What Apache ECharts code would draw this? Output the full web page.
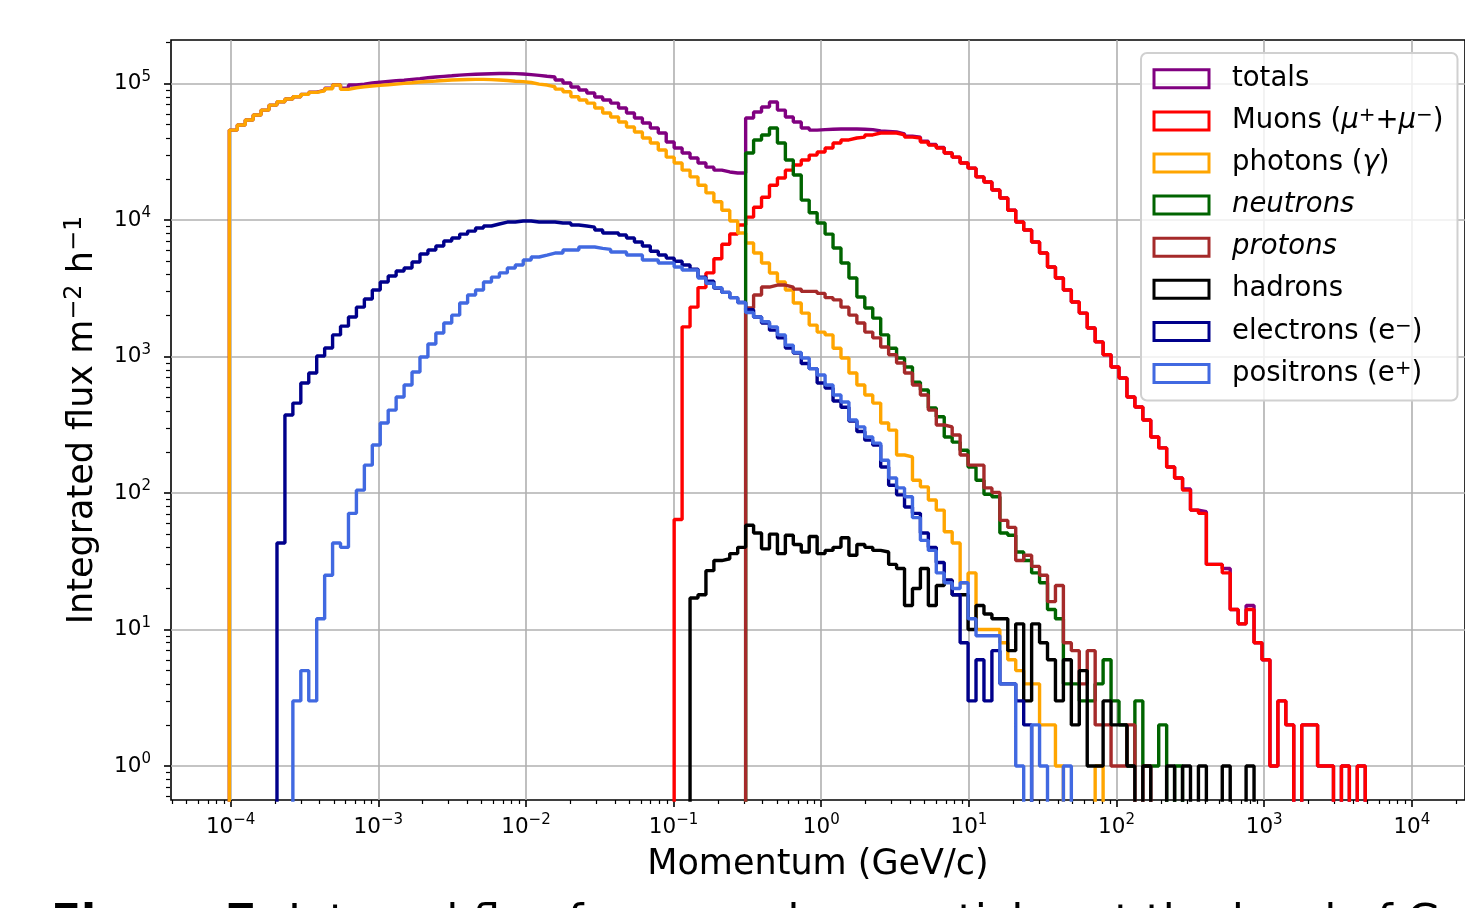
<!DOCTYPE html>
<html>
<head>
<meta charset="utf-8">
<script src="https://cdn.jsdelivr.net/npm/echarts@6/dist/echarts.min.js"></script>
<style>
  html, body { margin: 0; padding: 0; background: #fff; }
  #chart { width: 1465px; height: 908px; }
</style>
</head>
<body>
<div id="chart"></div>
<script>
// momentum bins are equal in log10(p / GeV/c)
const firstEdgeLog = -4.009;
const binWidthLog = 0.0538;

// integrated flux per bin (m^-2 h^-1); 0 = empty bin
const totalsFirstBin = 0;
const totals = [
  45600, 49700, 54000, 58800, 63900, 69500, 73600, 77000, 80000, 83300,
  86500, 89000, 92500, 98000, 92500, 97500, 99100, 100900, 102200, 103500,
  104800, 105700, 107300, 108700, 110300, 111700, 112900, 114000, 115200, 116200,
  116900, 117500, 118000, 118400, 118600, 118200, 117400, 116200, 114700, 113100,
  111600, 106100, 100900, 94300, 89600, 85200, 79600, 75700, 71900, 66200,
  60800, 55900, 51400, 47200, 43400, 37300, 33700, 31000, 28500, 26200,
  24400, 23200, 22500, 22100, 22100, 55900, 61800, 67300, 73200, 63900,
  56800, 52300, 47200, 45600, 46000, 46300, 46500, 46500, 46500, 46300,
  46000, 45000, 44600, 44200, 42800, 41200, 40500, 37800, 35800, 34000,
  31000, 28900, 26200, 24000, 20700, 19000, 16600, 14500, 11800, 9670,
  8450, 6900, 5730, 4530, 3760, 3070, 2510, 2080, 1620, 1280,
  1030, 838, 696, 505, 427, 343, 257, 214, 155, 129,
  107, 75, 73, 30, 30, 28, 14, 11, 15, 8,
  6, 1, 3, 2, 0, 2, 2, 1, 1, 0,
  1, 0, 1
];

const muonsFirstBin = 56;
const muons = [
  64, 1650, 2300, 3200, 4100, 5200, 6650, 7900, 9200, 10500,
  12400, 14700, 18000, 20300, 23200, 25300, 27500, 29900, 31500, 33700,
  36700, 38600, 39900, 40500, 42000, 43400, 43400, 43400, 42000, 40500,
  39900, 37300, 35400, 33700, 31000, 28900, 26200, 24000, 20700, 19000,
  16600, 14500, 11800, 9670, 8450, 6900, 5730, 4530, 3760, 3070,
  2510, 2080, 1620, 1280, 1030, 838, 696, 505, 427, 343,
  257, 214, 155, 129, 105, 75, 71, 30, 30, 26,
  14, 11, 14, 8, 6, 1, 3, 2, 0, 2,
  2, 1, 1, 0, 1, 0, 1
];

const photonsFirstBin = 0;
const photons = [
  45600, 49700, 54000, 58800, 63900, 69500, 73600, 77000, 80000, 83300,
  86200, 88500, 91600, 97500, 90600, 93200, 94700, 95900, 97000, 98000,
  99100, 100200, 101300, 102600, 103500, 104300, 105200, 106100, 106600, 107100,
  107300, 107300, 106900, 106100, 105200, 104000, 103200, 101700, 99100, 97500,
  94700, 91000, 87100, 80000, 75700, 71900, 66200, 60800, 56900, 52300,
  48000, 44100, 39900, 36700, 32600, 28900, 26200, 23200, 20700, 18000,
  15800, 13600, 11800, 9830, 8040, 6790, 5730, 4840, 4090, 3520,
  3070, 2470, 2080, 1700, 1510, 1440, 1150, 975, 757, 618,
  522, 456, 326, 289, 190, 184, 124, 111, 89, 75,
  52, 43, 22, 26, 10, 10, 10, 8, 6, 5,
  4, 4, 2, 2, 1, 0, 0, 0, 0, 1
];

const neutronsFirstBin = 65;
const neutrons = [
  31000, 38600, 42000, 47200, 36700, 27500, 21400, 14000, 11300, 9510,
  7890, 6240, 4840, 3760, 2730, 2270, 1910, 1440, 1150, 975,
  838, 648, 568, 420, 362, 257, 236, 206, 155, 124,
  98, 94, 51, 49, 37, 32, 26, 22, 14, 12,
  4, 4, 3, 3, 4, 6, 3, 2, 1, 3,
  1, 1, 2, 0, 1
];

const protonsFirstBin = 65;
const protons = [
  2270, 2820, 3230, 3340, 3340, 3230, 3120, 3000, 3000, 2900,
  2700, 2600, 2300, 2010, 1760, 1510, 1370, 1175, 1030, 896,
  757, 618, 522, 405, 315, 305, 266, 190, 160, 160,
  109, 101, 63, 56, 32, 35, 29, 25, 16, 21,
  8, 7, 4, 7, 2, 2, 1, 1, 2, 0,
  1
];

const hadronsFirstBin = 58;
const hadrons = [
  17, 18, 27, 32, 33, 36, 40, 58, 51, 39,
  50, 36, 49, 42, 37, 48, 36, 38, 40, 47,
  35, 42, 40, 38, 37, 30, 28, 15, 20, 28,
  15, 21, 23, 18, 18, 10, 15, 13, 12, 12,
  7, 11, 3, 11, 8, 6, 3, 6, 2, 5,
  1, 1, 3, 2, 2, 1, 0, 1, 0, 0,
  1, 0, 1, 0, 1, 0, 0, 1, 0, 0,
  1
];

const electronsFirstBin = 6;
const electrons = [
  43, 373, 456, 640, 757, 1010, 1155, 1440, 1670, 1950,
  2300, 2640, 3070, 3520, 3890, 4230, 4450, 4925, 5635, 6030,
  6450, 7020, 7380, 7890, 8300, 8740, 9040, 9350, 9670, 9670,
  9830, 9830, 9670, 9670, 9670, 9510, 9510, 9190, 9040, 8870,
  8450, 8040, 8040, 7770, 7380, 6900, 6450, 5900, 5540, 5260,
  4990, 4680, 4370, 3820, 3560, 3170, 2950, 2700, 2490, 2200,
  1950, 1760, 1560, 1370, 1155, 1060, 890, 815, 640, 588,
  472, 425, 337, 282, 244, 225, 155, 114, 97, 79,
  71, 51, 40, 31, 23, 18, 8, 3, 6, 3,
  7, 4, 4, 3, 2
];

const positronsFirstBin = 8;
const positrons = [
  3, 5, 3, 12, 25, 43, 40, 71, 105, 160,
  225, 326, 405, 505, 618, 770, 992, 1235, 1487, 1760,
  2010, 2470, 2820, 3070, 3515, 3820, 4100, 4450, 4680, 5090,
  5360, 5540, 5730, 5730, 6030, 6030, 6340, 6340, 6200, 6100,
  5830, 5830, 5540, 5540, 5090, 5090, 4840, 4840, 4530, 4300,
  4300, 3760, 3440, 3200, 2950, 2700, 2490, 2100, 1950, 1800,
  1650, 1440, 1210, 1070, 975, 815, 732, 618, 522, 464,
  343, 305, 257, 232, 174, 129, 109, 94, 66, 45,
  38, 26, 22, 20, 22, 12, 9, 9, 9, 4,
  4, 1, 0, 2, 1, 0, 0, 1
];

const seriesNames = ['totals', 'Muons', 'photons', 'neutrons', 'protons', 'hadrons', 'electrons', 'positrons'];
const legendLabels = [
  'totals',
  'Muons ({i|μ}{s|+}+{i|μ}{s|−})',
  'photons ({i|γ})',
  '{i|neutrons}',
  '{i|protons}',
  'hadrons',
  'electrons (e{s|−})',
  'positrons (e{s|+})'
];
const colors = ['#800080', '#ff0000', '#ffa500', '#006400', '#a52a2a', '#000000', '#00008b', '#4169e1'];

const xTickExps = [-4, -3, -2, -1, 0, 1, 2, 3, 4];
const yTickExps = [0, 1, 2, 3, 4, 5];
const xRange = [-4.404, 4.36];
const yRange = [-0.249, 5.319];

const emptyLog = -3; // empty bins fall below the frame, like matplotlib's log clip

function edge(n) {
  return firstEdgeLog + n * binWidthLog;
}

function stepPoints(firstBin, flux) {
  const lg = v => (v > 0 ? Math.log10(v) : emptyLog);
  const pts = [[edge(firstBin), emptyLog]];
  flux.forEach((v, i) => pts.push([edge(firstBin + i), lg(v)]));
  const end = edge(firstBin + flux.length);
  pts.push([end, lg(flux[flux.length - 1])]);
  pts.push([end, emptyLog]);
  return pts;
}

function minorTicks(range) {
  const out = [];
  for (let d = Math.floor(range[0]); d <= Math.ceil(range[1]); d++) {
    for (let m = 2; m <= 9; m++) {
      const v = d + Math.log10(m);
      if (v > range[0] && v < range[1]) out.push(v);
    }
  }
  return out;
}

function powerLabel(v) {
  const e = Math.round(v);
  return '{b|10}{s|' + (e < 0 ? '−' + (-e) : e) + '}';
}

const font = 'DejaVu Sans';
const tickRich = {
  b: { fontSize: 21.5, lineHeight: 28, fontFamily: font, color: '#000' },
  s: { fontSize: 15, lineHeight: 15, verticalAlign: 'top', fontFamily: font, color: '#000' }
};

const allData = [
  [totalsFirstBin, totals],
  [muonsFirstBin, muons],
  [photonsFirstBin, photons],
  [neutronsFirstBin, neutrons],
  [protonsFirstBin, protons],
  [hadronsFirstBin, hadrons],
  [electronsFirstBin, electrons],
  [positronsFirstBin, positrons]
];

const chart = echarts.init(document.getElementById('chart'));

const option = {
  animation: false,
  backgroundColor: '#fff',
  textStyle: { fontFamily: font },
  grid: {
    left: 171, top: 40, right: -1, bottom: 108,
    show: true, borderColor: '#000', borderWidth: 1.6, backgroundColor: 'transparent'
  },
  title: {
    text: '{b|Figure 7:} Integral flux for secondary particles at the level of Gran Sasso',
    left: 46, top: 898,
    textStyle: {
      fontSize: 44, fontWeight: 'normal', color: '#000', fontFamily: font,
      rich: { b: { fontSize: 44, fontWeight: 'bold', fontFamily: font, color: '#000' } }
    }
  },
  legend: {
    orient: 'vertical',
    left: 1141, top: 53,
    padding: [10.8, 14, 12, 11.5],
    itemWidth: 55, itemHeight: 18, itemGap: 12.1,
    icon: 'rect',
    selectedMode: false,
    backgroundColor: 'rgba(255,255,255,0.8)',
    borderColor: '#d0d0d0', borderWidth: 2, borderRadius: 6,
    data: seriesNames.map((n, i) => ({
      name: n,
      itemStyle: { color: 'rgba(0,0,0,0)', borderColor: colors[i], borderWidth: 3 }
    })),
    formatter: name => legendLabels[seriesNames.indexOf(name)],
    textStyle: {
      fontSize: 27.5, lineHeight: 30, color: '#000', fontFamily: font, padding: [0, 0, 0, 18],
      rich: {
        i: { fontSize: 27.5, lineHeight: 30, fontStyle: 'italic', fontFamily: font, color: '#000' },
        s: { fontSize: 20, lineHeight: 19, verticalAlign: 'top', fontFamily: font, color: '#000' }
      }
    }
  },
  xAxis: [
    {
      type: 'value', min: xRange[0], max: xRange[1],
      axisLine: { show: false, onZero: false },
      axisTick: { show: true, length: 7, lineStyle: { color: '#000', width: 1.6 }, customValues: xTickExps },
      axisLabel: { customValues: xTickExps, formatter: powerLabel, rich: tickRich, margin: 13 },
      splitLine: { show: true, lineStyle: { color: '#b0b0b0', width: 1.6 } },
      name: 'Momentum (GeV/c)', nameLocation: 'middle', nameGap: 45,
      nameTextStyle: { fontSize: 35, lineHeight: 40, color: '#000', fontFamily: font }
    },
    {
      type: 'value', min: xRange[0], max: xRange[1],
      position: 'top', offset: -760,
      axisLine: { show: false, onZero: false },
      axisTick: { show: true, inside: true, length: 4, lineStyle: { color: '#000', width: 1.2 }, customValues: minorTicks(xRange) },
      axisLabel: { show: false },
      splitLine: { show: false }
    }
  ],
  yAxis: [
    {
      type: 'value', min: yRange[0], max: yRange[1],
      axisLine: { show: false, onZero: false },
      axisTick: { show: true, length: 7, lineStyle: { color: '#000', width: 1.6 }, customValues: yTickExps },
      axisLabel: { customValues: yTickExps, formatter: powerLabel, rich: tickRich, margin: 20 },
      splitLine: { show: true, lineStyle: { color: '#b0b0b0', width: 1.6 } },
      name: 'Integrated flux m{s|−2} h{s|−1}', nameLocation: 'middle', nameGap: 64, nameRotate: 90,
      nameTextStyle: {
        fontSize: 35, lineHeight: 40, color: '#000', fontFamily: font,
        rich: { s: { fontSize: 24, lineHeight: 24, verticalAlign: 'top', fontFamily: font, color: '#000' } }
      }
    },
    {
      type: 'value', min: yRange[0], max: yRange[1],
      position: 'right', offset: -1295,
      axisLine: { show: false, onZero: false },
      axisTick: { show: true, inside: true, length: 4, lineStyle: { color: '#000', width: 1.2 }, customValues: minorTicks(yRange) },
      axisLabel: { show: false },
      splitLine: { show: false }
    }
  ],
  series: allData.map((d, i) => ({
    name: seriesNames[i],
    type: 'line',
    step: 'end',
    showSymbol: false,
    symbol: 'none',
    clip: true,
    lineStyle: { color: colors[i], width: 3.4 },
    itemStyle: { color: colors[i] },
    data: stepPoints(d[0], d[1])
  }))
};

chart.setOption(option);
</script>
</body>
</html>
